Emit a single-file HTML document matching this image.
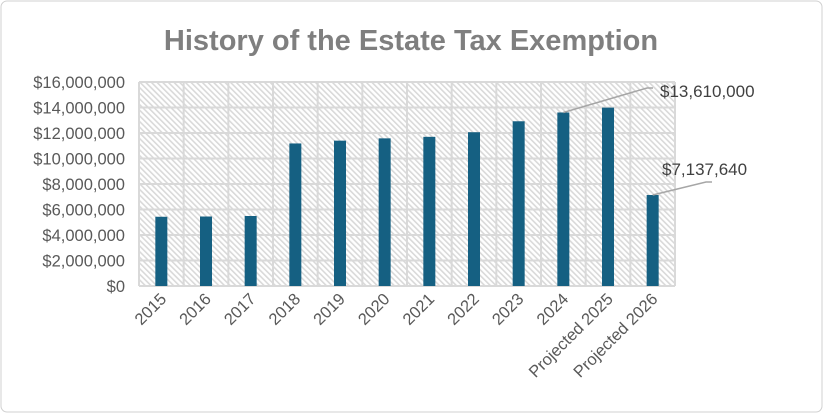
<!DOCTYPE html>
<html><head><meta charset="utf-8"><style>
html,body{margin:0;padding:0;background:#fff}
svg{display:block;font-family:"Liberation Sans",Arial,sans-serif}
</style></head><body>
<svg id="chart" width="823" height="413">
<defs>
<pattern id="hatch" width="4" height="4" patternUnits="userSpaceOnUse" patternTransform="rotate(-45)">
<rect width="4" height="4" fill="#fff"/>
<rect width="1.6" height="4" fill="#d9d9d9"/>
</pattern>
</defs>
<rect x="1" y="1" width="821" height="411" rx="6" fill="#fff" stroke="#d0d0d0"/>
<text x="411" y="50" text-anchor="middle" font-size="29" font-weight="bold" fill="#7f7f7f">History of the Estate Tax Exemption</text>
<rect x="139" y="82" width="536" height="204" fill="url(#hatch)"/>
<g id="grid"></g><g id="bars"></g><g id="labels"></g>
</svg>
<script>
const categories=["2015","2016","2017","2018","2019","2020","2021","2022","2023","2024","Projected 2025","Projected 2026"];
const values=[5430000,5450000,5490000,11180000,11400000,11580000,11700000,12060000,12920000,13610000,13990000,7137640];
const yTicks=[0,2000000,4000000,6000000,8000000,10000000,12000000,14000000,16000000];
const NS="http://www.w3.org/2000/svg";
const L=139,R=675,T=82,B=286,yMax=16000000;
const bw=(R-L)/categories.length;
const y=v=>B-(v/yMax)*(B-T);
const xc=i=>L+bw*(i+0.5);
function mk(tag,a,p){const e=document.createElementNS(NS,tag);for(const k in a)e.setAttribute(k,a[k]);p.appendChild(e);return e;}
const grid=document.getElementById('grid'),bars=document.getElementById('bars'),labels=document.getElementById('labels');
const fmt=v=>'$'+v.toLocaleString('en-US');
yTicks.forEach(t=>{
  const ln=mk('line',{x1:L,x2:R,y1:y(t),y2:y(t),stroke:'#d9d9d9','stroke-width':2},grid);
  
  
  const tx=mk('text',{x:L-14,y:y(t)+6,'text-anchor':'end','font-size':16.5,fill:'#595959'},labels);
  tx.textContent=fmt(t);
  
  
});
for(let i=0;i<=categories.length;i++){
  const ln=mk('line',{x1:L+bw*i,x2:L+bw*i,y1:T,y2:B,stroke:'#d9d9d9','stroke-width':2},grid);
  
  
}
categories.forEach((c,i)=>{
  const r=mk('rect',{x:xc(i)-6,y:y(values[i]),width:12,height:B-y(values[i]),fill:'#156082'},bars);
  
  
  const tx=mk('text',{x:xc(i)+6,y:300,'text-anchor':'end','font-size':16.5,fill:'#595959',transform:`rotate(-45 ${xc(i)+6} 300)`},labels);
  tx.textContent=c;
  
  
});
[[9,647,88,660,97],[11,706,182,662,175]].forEach(([i,lx,ly,tx0,ty0])=>{
  const ln=mk('polyline',{points:`${xc(i)} ${y(values[i])} ${lx} ${ly} ${lx+6} ${ly}`,fill:'none',stroke:'#a6a6a6','stroke-width':1.5},labels);
  
  
  const t=mk('text',{x:tx0,y:ty0,'font-size':17,fill:'#404040'},labels);
  t.textContent=fmt(values[i]);
  
  
});
</script>
</body></html>
